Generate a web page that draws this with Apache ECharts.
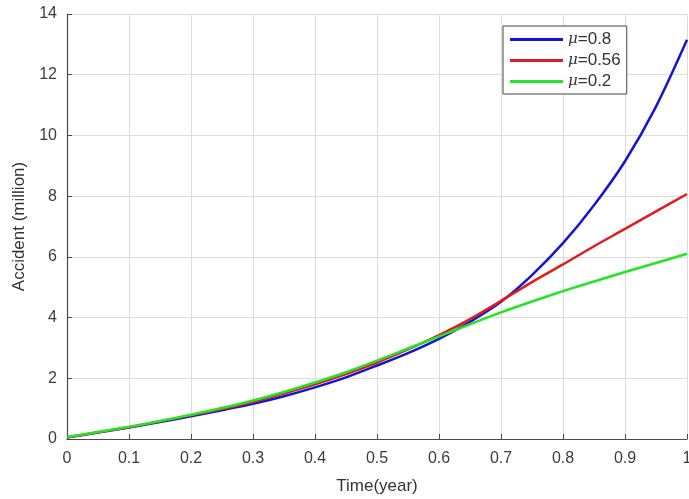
<!DOCTYPE html>
<html>
<head>
<meta charset="utf-8">
<script src="https://cdn.jsdelivr.net/npm/echarts@6/dist/echarts.min.js"></script>
<style>html,body{margin:0;padding:0;background:#fff;}#c{width:689px;height:499px;}</style>
</head>
<body>
<div id="c"></div>
<script>
var timeYear = [0,0.05,0.1,0.15,0.2,0.25,0.3,0.35,0.4,0.45,0.5,0.55,0.6,0.65,0.7,0.75,0.8,0.85,0.9,0.95,1.0];
var accMu08  = [0.05,0.21,0.38,0.56,0.75,0.95,1.16,1.41,1.70,2.03,2.42,2.83,3.30,3.86,4.52,5.40,6.45,7.70,9.15,10.95,13.15];
var accMu056 = [0.06,0.22,0.39,0.58,0.78,0.99,1.22,1.50,1.80,2.14,2.52,2.95,3.42,3.95,4.55,5.17,5.75,6.35,6.92,7.50,8.07];
var accMu02  = [0.06,0.23,0.40,0.59,0.80,1.02,1.27,1.55,1.86,2.20,2.58,2.98,3.38,3.78,4.17,4.53,4.87,5.19,5.50,5.80,6.10];
var seriesNames = ['μ=0.8','μ=0.56','μ=0.2'];
var yTicks = [0,2,4,6,8,10,12,14];
var xTicks = [0,0.1,0.2,0.3,0.4,0.5,0.6,0.7,0.8,0.9,1];

function pairs(ys){ return timeYear.map(function(x,i){ return [x, ys[i]]; }); }

var font = 'Liberation Sans, Arial, Helvetica, sans-serif';
var chart = echarts.init(document.getElementById('c'));
var colors = ['#1414d6','#e01c1c','#22e622'];
chart.setOption({
  animation: false,
  backgroundColor: '#fff',
  grid: {left: 67, right: 2, top: 14, bottom: 60, containLabel: false, outerBoundsMode: 'none'},
  legend: {
    orient: 'vertical',
    left: 503, top: 26,
    backgroundColor: '#fff',
    borderColor: '#444', borderWidth: 1,
    padding: [5, 6, 4, 7],
    itemGap: 4,
    itemWidth: 53, itemHeight: 3,
    icon: 'rect',
    data: seriesNames,
    formatter: function(n){ return '{i|μ}{t|' + n.slice(1) + '}'; },
    textStyle: {
      fontFamily: font, fontSize: 16, color: '#333',
      rich: {
        i: {fontStyle: 'italic', fontFamily: 'DejaVu Serif, serif', fontSize: 15, color: '#333', height: 19},
        t: {fontFamily: font, fontSize: 17, color: '#333', height: 19}
      }
    }
  },
  xAxis: {
    type: 'value', min: 0, max: 1, interval: 0.1,
    name: 'Time(year)', nameLocation: 'middle', nameGap: 39,
    nameTextStyle: {fontFamily: font, fontSize: 17, color: '#333'},
    axisLine: {show: true, lineStyle: {color: '#4a4a4a', width: 1.2}},
    axisTick: {show: true, inside: true, length: 5, lineStyle: {color: '#4a4a4a'}},
    axisLabel: {fontFamily: font, fontSize: 16, color: '#3c3c3c', margin: 12,
      formatter: function(v){ return String(Math.round(v*10)/10); }},
    splitLine: {show: true, lineStyle: {color: '#dcdcdc', width: 1}}
  },
  yAxis: {
    type: 'value', min: 0, max: 14, interval: 2,
    name: 'Accident (million)', nameLocation: 'middle', nameGap: 38, nameRotate: 90,
    nameTextStyle: {fontFamily: font, fontSize: 17, color: '#333'},
    axisLine: {show: true, lineStyle: {color: '#4a4a4a', width: 1.2}},
    axisTick: {show: true, inside: true, length: 5, lineStyle: {color: '#4a4a4a'}},
    axisLabel: {fontFamily: font, fontSize: 16, color: '#3c3c3c', margin: 10},
    splitLine: {show: true, lineStyle: {color: '#dcdcdc', width: 1}}
  },
  series: [
    {name: seriesNames[0], type: 'line', smooth: 0.3, showSymbol: false, symbol: 'none', data: pairs(accMu08), lineStyle: {color: colors[0], width: 2.5}, itemStyle: {color: colors[0]}, z: 3},
    {name: seriesNames[1], type: 'line', smooth: 0.3, showSymbol: false, symbol: 'none', data: pairs(accMu056), lineStyle: {color: colors[1], width: 2.5}, itemStyle: {color: colors[1]}, z: 4},
    {name: seriesNames[2], type: 'line', smooth: 0.3, showSymbol: false, symbol: 'none', data: pairs(accMu02), lineStyle: {color: colors[2], width: 2.5}, itemStyle: {color: colors[2]}, z: 5}
  ]
});
</script>
</body>
</html>
